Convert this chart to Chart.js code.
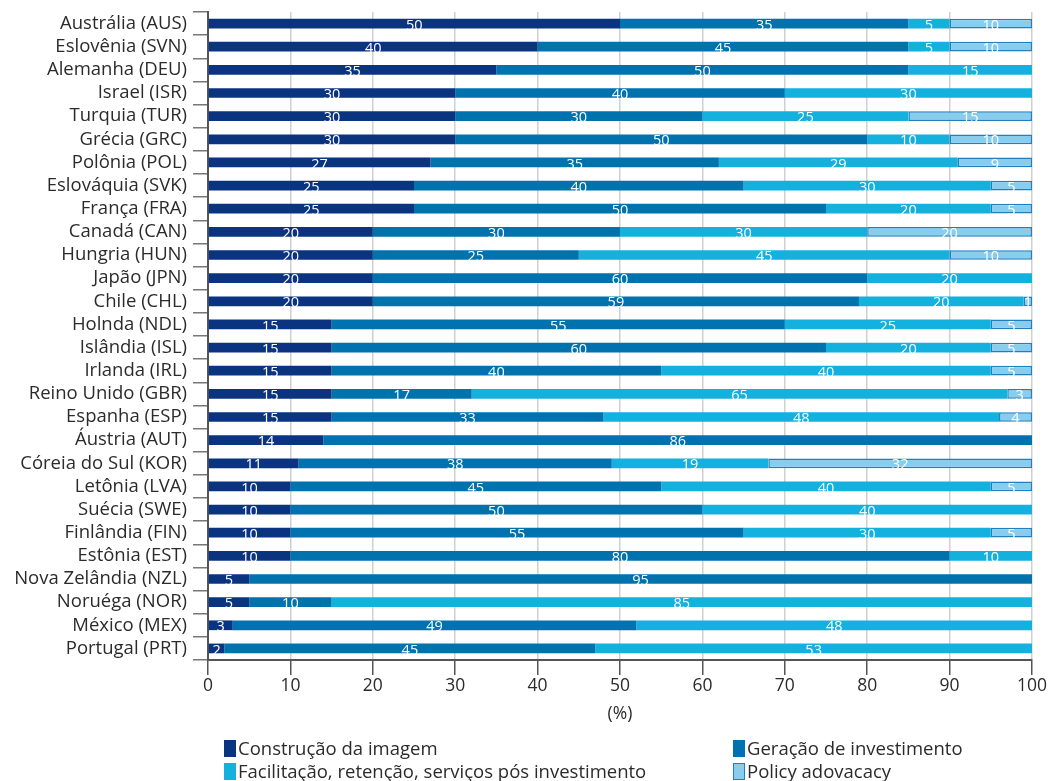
<!DOCTYPE html>
<html>
<head>
<meta charset="utf-8">
<script src="https://cdn.jsdelivr.net/npm/chart.js@4"></script>
<style>
  body { margin: 0; background: #fff; }
  #wrap { position: relative; width: 1048px; height: 781px; }
  #chart { position: absolute; left: 0; top: 0; }
  .leg { position: absolute; font: 18.5px "Open Sans", sans-serif; color: #2b2b2b; display: flex; align-items: center; line-height: 22px; }
  .leg span.box { display: inline-block; width: 12px; height: 17px; margin-right: 2px; box-sizing: border-box; }
</style>
</head>
<body>
<div id="wrap">
  <canvas id="chart" width="1048" height="781"></canvas>
  <div id="legend"></div>
</div>
<script>
// Countries, top to bottom
const countries = [
    'Austrália (AUS)', 'Eslovênia (SVN)', 'Alemanha (DEU)', 'Israel (ISR)', 'Turquia (TUR)',
    'Grécia (GRC)', 'Polônia (POL)', 'Eslováquia (SVK)', 'França (FRA)', 'Canadá (CAN)',
    'Hungria (HUN)', 'Japão (JPN)', 'Chile (CHL)', 'Holnda (NDL)', 'Islândia (ISL)',
    'Irlanda (IRL)', 'Reino Unido (GBR)', 'Espanha (ESP)', 'Áustria (AUT)', 'Córeia do Sul (KOR)',
    'Letônia (LVA)', 'Suécia (SWE)', 'Finlândia (FIN)', 'Estônia (EST)', 'Nova Zelândia (NZL)',
    'Noruéga (NOR)', 'México (MEX)', 'Portugal (PRT)'
];

const imagem = [50, 40, 35, 30, 30, 30, 27, 25, 25, 20, 20, 20, 20, 15, 15, 15, 15, 15, 14, 11, 10, 10, 10, 10, 5, 5, 3, 2];
const investimento = [35, 45, 50, 40, 30, 50, 35, 40, 50, 30, 25, 60, 59, 55, 60, 40, 17, 33, 86, 38, 45, 50, 55, 80, 95, 10, 49, 45];
const facilitacao = [5, 5, 15, 30, 25, 10, 29, 30, 20, 30, 45, 20, 20, 25, 20, 40, 65, 48, 0, 19, 40, 40, 30, 10, 0, 85, 48, 53];
const policy = [10, 10, 0, 0, 15, 10, 9, 5, 5, 20, 10, 0, 1, 5, 5, 5, 3, 4, 0, 32, 5, 0, 5, 0, 0, 0, 0, 0];

const xTicks = [0, 10, 20, 30, 40, 50, 60, 70, 80, 90, 100];

const series = [
    { label: 'Construção da imagem', data: imagem, color: '#0b3480', border: '#0b3480' },
    { label: 'Geração de investimento', data: investimento, color: '#0072ae', border: '#0072ae' },
    { label: 'Facilitação, retenção, serviços pós investimento', data: facilitacao, color: '#14b0de', border: '#14b0de' },
    { label: 'Policy adovacacy', data: policy, color: '#88cdee', border: '#1f7fbf' }
];

// white numbers inside every non-zero segment
const valueLabels = {
    id: 'valueLabels',
    afterDatasetsDraw(chart) {
        const ctx = chart.ctx;
        ctx.save();
        ctx.font = '14.5px "Open Sans", sans-serif';
        ctx.fillStyle = '#ffffff';
        ctx.textAlign = 'center';
        ctx.textBaseline = 'middle';
        chart.data.datasets.forEach((ds, i) => {
            chart.getDatasetMeta(i).data.forEach((bar, j) => {
                const v = ds.data[j];
                if (!v) return;
                const cx = (bar.x + bar.base) / 2;
                ctx.fillText(String(v), cx, bar.y + 2);
            });
        });
        ctx.restore();
    }
};

new Chart(document.getElementById('chart'), {
    type: 'bar',
    data: {
        labels: countries,
        datasets: series.map(s => ({
            label: s.label,
            data: s.data,
            backgroundColor: s.color,
            borderColor: s.border,
            borderWidth: s.label === 'Policy adovacacy' ? 1.5 : 0,
            borderSkipped: false,
            categoryPercentage: 1,
            barPercentage: 0.42
        }))
    },
    options: {
        indexAxis: 'y',
        responsive: false,
        animation: false,
        layout: { padding: { top: 12, right: 15, bottom: 0, left: 0 } },
        plugins: {
            legend: { display: false },
            tooltip: { enabled: false }
        },
        scales: {
            x: {
                stacked: true,
                min: 0,
                max: 100,
                afterBuildTicks: scale => { scale.ticks = xTicks.map(v => ({ value: v })); },
                afterFit: scale => { scale.height = 121; },
                border: { color: '#555', width: 2 },
                grid: { color: '#d0d0d0', tickColor: '#555', tickLength: 15, lineWidth: 1.5 },
                ticks: { color: '#2b2b2b', padding: 1, font: { family: 'Open Sans', size: 17.5 } },
                title: {
                    display: true,
                    text: '(%)',
                    color: '#2b2b2b',
                    font: { family: 'Open Sans', size: 17.5 },
                    padding: { top: 0, bottom: 56 }
                }
            },
            y: {
                stacked: true,
                afterFit: scale => {
                    scale.width = 208;
                    scale.paddingTop = 0;
                    scale.paddingBottom = 0;
                },
                border: { color: '#555', width: 2 },
                grid: { drawOnChartArea: false, offset: true, tickColor: '#777', tickLength: 15, lineWidth: 1.5 },
                ticks: { color: '#2b2b2b', padding: 6, autoSkip: false, font: { family: 'Open Sans', size: 18.5, lineHeight: 1 } }
            }
        }
    },
    plugins: [valueLabels]
});

// legend in two columns below the axis
const legendPos = [[224, 737], [733, 737], [224, 760], [733, 760]];
const legend = document.getElementById('legend');
series.forEach((s, i) => {
    const d = document.createElement('div');
    d.className = 'leg';
    d.style.left = legendPos[i][0] + 'px';
    d.style.top = legendPos[i][1] + 'px';
    const b = document.createElement('span');
    b.className = 'box';
    b.style.background = s.color;
    if (s.border !== s.color) b.style.border = '1.5px solid ' + s.border;
    d.appendChild(b);
    d.appendChild(document.createTextNode(s.label));
    legend.appendChild(d);
});
</script>
</body>
</html>
